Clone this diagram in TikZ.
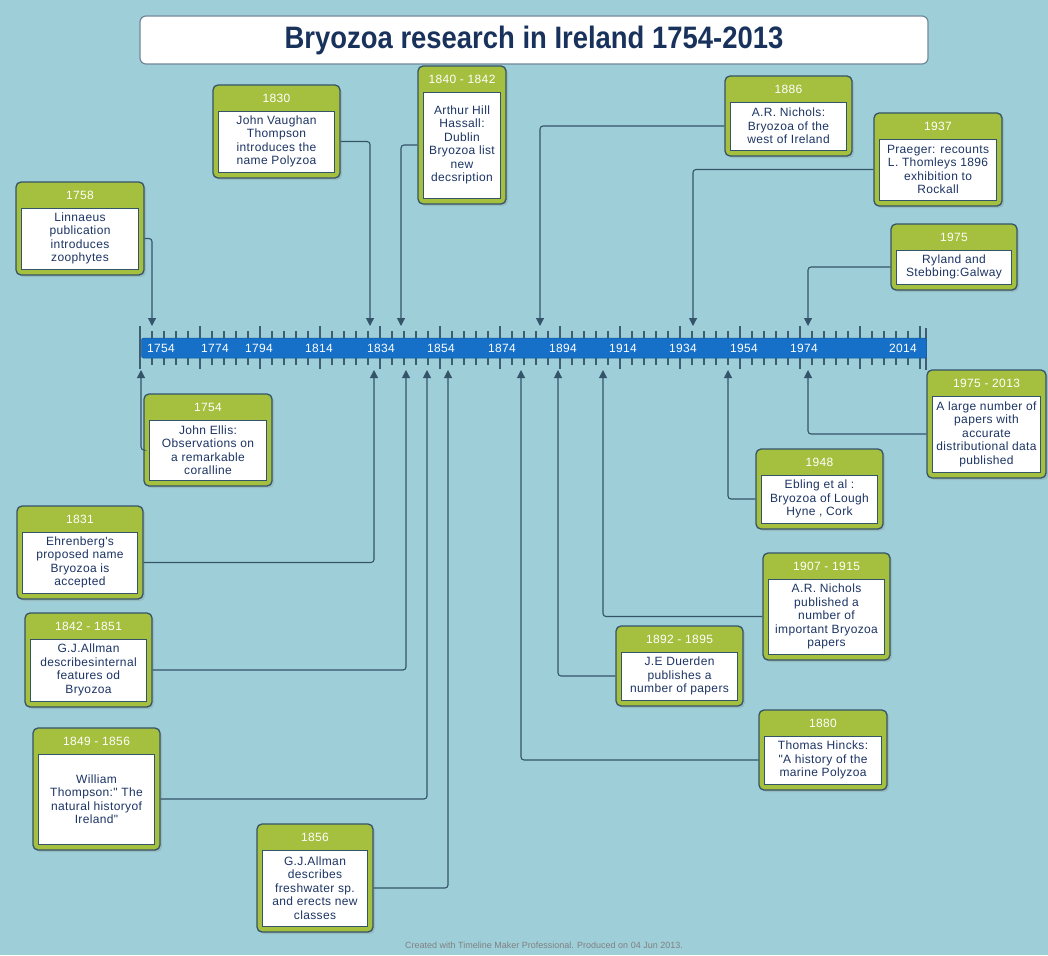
\documentclass[tikz,border=0pt]{standalone}
\usepackage{fontspec}
\setmainfont{Liberation Sans}
\newfontfamily\boxfont[LetterSpace=3]{Liberation Sans}
\usetikzlibrary{shadows,arrows.meta,calc}
\definecolor{bgc}{RGB}{158,207,216}
\definecolor{barblue}{RGB}{22,112,200}
\definecolor{evgreen}{RGB}{165,192,62}
\definecolor{edgec}{RGB}{52,84,106}
\definecolor{navy}{RGB}{28,52,100}
\definecolor{tickc}{RGB}{62,92,114}
\definecolor{titlec}{RGB}{24,50,92}
\tikzset{
  outerbox/.style={rectangle, rounded corners=5pt, fill=evgreen, draw=edgec, line width=1.3pt,
    drop shadow={shadow xshift=2pt, shadow yshift=-2pt, opacity=0.25}},
  innerbox/.style={rectangle, fill=white, draw=edgec, line width=0.9pt, text=navy,
    font=\boxfont\fontsize{12}{13.5}\selectfont, align=center, inner sep=1pt},
  yeartext/.style={text=white, font=\boxfont\fontsize{12}{13}\selectfont, inner sep=0pt},
  conn/.style={draw=edgec, line width=1.1pt, rounded corners=3pt, -{Triangle[width=8pt,length=8pt]}},
  barlab/.style={text=white, font=\boxfont\fontsize{12}{13}\selectfont, inner sep=0pt},
  tickline/.style={draw=tickc, line width=1.1pt},
}
\newcommand\evt[7]{%
  \node[outerbox, minimum width={(#4-#2)*1pt}, minimum height={(#5-#3)*1pt}] (b#1) at ({(#2+#4)/2},{(#3+#5)/2}) {};
  \node[innerbox, minimum width={(#4-#2-11)*1pt}, minimum height={(#5-#3-32)*1pt}] (i#1) at ({(#2+#4)/2},{(#3+26+#5-6)/2}) {#7};
  \node[yeartext] (y#1) at ({(#2+#4)/2},{#3+13}) {#6};
}
\begin{document}
\begin{tikzpicture}[x=1pt,y=-1pt]
\fill[bgc] (0,0) rectangle (1048,955);
\useasboundingbox (0,0) rectangle (1048,955);

% title
\node[rectangle, rounded corners=6pt, fill=white, draw=edgec!70, line width=1.2pt,
  minimum width=788pt, minimum height=48pt, text=titlec,
  font=\fontsize{31}{32}\selectfont\bfseries] (title) at (534,40)
  {\scalebox{0.885}[1]{Bryozoa research in Ireland 1754-2013}};

% ticks
\foreach \i in {0,...,65}{
  \pgfmathtruncatemacro\m{mod(\i,5)}
  \pgfmathsetmacro\xx{140+12*\i}
  \ifnum\m=0
    \draw[tickline] (\xx,326) -- (\xx,369);
  \else
    \draw[tickline] (\xx,331) -- (\xx,365);
  \fi
}
\draw[tickline] (926,328) -- (926,370);

% bar
\node[rectangle, rounded corners=2pt, fill=barblue, draw=barblue!80!black, line width=0.5pt,
  minimum width=785pt, minimum height=20pt] (bar) at (534,348) {};
\node[barlab] (l1754) at (161,348) {1754};
\node[barlab] (l1774) at (215,348) {1774};
\node[barlab] (l1794) at (259,348) {1794};
\node[barlab] (l1814) at (319,348) {1814};
\node[barlab] (l1834) at (381,348) {1834};
\node[barlab] (l1854) at (441,348) {1854};
\node[barlab] (l1874) at (502,348) {1874};
\node[barlab] (l1894) at (563,348) {1894};
\node[barlab] (l1914) at (623,348) {1914};
\node[barlab] (l1934) at (683,348) {1934};
\node[barlab] (l1954) at (744,348) {1954};
\node[barlab] (l1974) at (804,348) {1974};
\node[barlab] (l2014) at (903,348) {2014};

% target points on the time axis
\coordinate (tA) at (152,326);
\coordinate (tB) at (370,326);
\coordinate (tC) at (401,326);
\coordinate (tD) at (540,326);
\coordinate (tE) at (693,326);
\coordinate (tF) at (808,326);
\coordinate (tG) at (141,370);
\coordinate (tH) at (374,370);
\coordinate (tI) at (406,370);
\coordinate (tJ) at (427,370);
\coordinate (tK) at (448,370);
\coordinate (tL) at (521,370);
\coordinate (tM) at (558,370);
\coordinate (tN) at (603,370);
\coordinate (tO) at (728,370);
\coordinate (tP) at (808,370);

% events
\evt{A}{16}{182}{144}{275}{1758}{Linnaeus\\publication\\introduces\\zoophytes}
\evt{B}{213}{85}{340}{178}{1830}{John Vaughan\\Thompson\\introduces the\\name Polyzoa}
\evt{C}{418}{66}{506}{204}{1840 - 1842}{Arthur Hill\\Hassall:\\Dublin\\Bryozoa list\\new\\decsription}
\evt{D}{725}{76}{852}{156}{1886}{A.R. Nichols:\\Bryozoa of the\\west of Ireland}
\evt{E}{874}{113}{1002}{206}{1937}{Praeger: recounts\\L. Thomleys 1896\\exhibition to\\Rockall}
\evt{F}{891}{224}{1017}{290}{1975}{Ryland and\\Stebbing:Galway}
\evt{G}{144}{394}{272}{486}{1754}{John Ellis:\\Observations on\\a remarkable\\coralline}
\evt{H}{17}{506}{143}{599}{1831}{Ehrenberg's\\proposed name\\Bryozoa is\\accepted}
\evt{I}{25}{613}{152}{707}{1842 - 1851}{G.J.Allman\\describesinternal\\features od\\Bryozoa}
\evt{J}{33}{728}{160}{850}{1849 - 1856}{William\\Thompson:" The\\natural historyof\\Ireland"}
\evt{K}{257}{824}{373}{932}{1856}{G.J.Allman\\describes\\freshwater sp.\\and erects new\\classes}
\evt{L}{759}{710}{887}{790}{1880}{Thomas Hincks:\\"A history of the\\marine Polyzoa}
\evt{M}{616}{626}{743}{706}{1892 - 1895}{J.E Duerden\\publishes a\\number of papers}
\evt{N}{763}{553}{890}{660}{1907 - 1915}{A.R. Nichols\\published a\\number of\\important Bryozoa\\papers}
\evt{O}{756}{449}{883}{529}{1948}{Ebling et al :\\Bryozoa of Lough\\Hyne , Cork}
\evt{P}{927}{370}{1046}{478}{1975 - 2013}{A large number of\\papers with\\accurate\\distributional data\\published}

% connectors
\draw[conn] (bA.east |- iA) -| (tA);
\draw[conn] (bB.east |- iB) -| (tB);
\draw[conn] (bC.west |- iC) -| (tC);
\draw[conn] (bD.west |- iD) -| (tD);
\draw[conn] (bE.west |- iE) -| (tE);
\draw[conn] (bF.west |- iF) -| (tF);
\draw[conn] (bG.west |- iG) -| (tG);
\draw[conn] (bH.east |- iH) -| (tH);
\draw[conn] (bI.east |- iI) -| (tI);
\draw[conn] (bJ.east |- iJ) -| (tJ);
\draw[conn] (bK.east |- iK) -| (tK);
\draw[conn] (bL.west |- iL) -| (tL);
\draw[conn] (bM.west |- iM) -| (tM);
\draw[conn] (bN.west |- iN) -| (tN);
\draw[conn] (bO.west |- iO) -| (tO);
\draw[conn] (bP.west |- iP) -| (tP);

% footer
\node[text=black!50, font=\fontsize{9}{10}\selectfont] (foot) at (544,945)
  {Created with Timeline Maker Professional. Produced on 04 Jun 2013.};
\end{tikzpicture}
\end{document}
